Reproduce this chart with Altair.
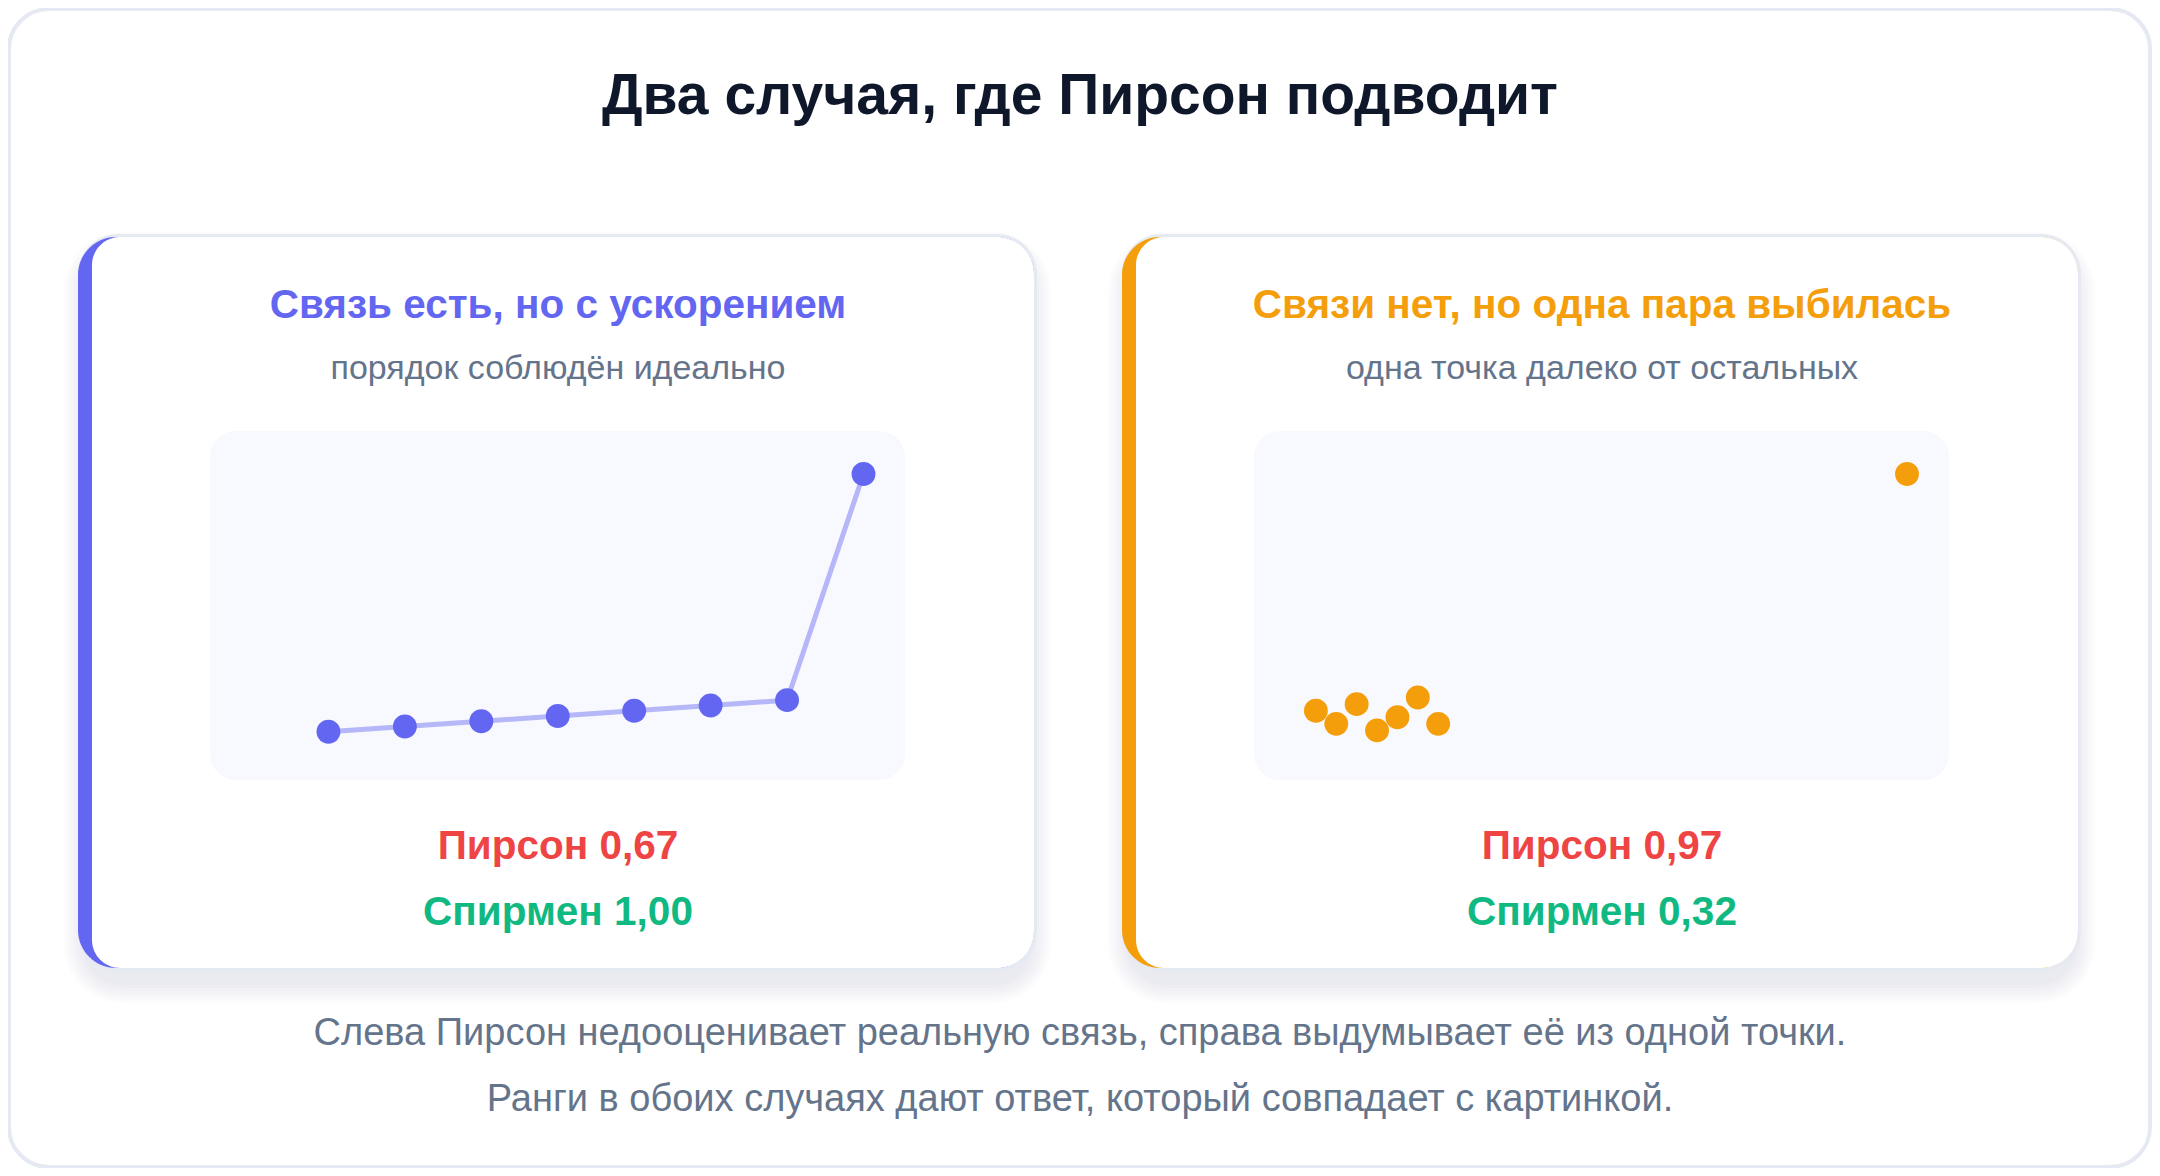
import altair as alt
import pandas as pd

# ---- data ----
left_x = [1, 2, 3, 4, 5, 6, 7, 8]
left_y = [1, 2, 3, 4, 5, 6, 7, 50]
right_x = [1, 2, 3, 4, 5, 6, 7, 30]
right_y = [4, 2, 5, 1, 3, 6, 2, 40]

main_title = "Два случая, где Пирсон подводит"
panel_titles = ["Связь есть, но с ускорением", "Связи нет, но одна пара выбилась"]
panel_subtitles = ["порядок соблюдён идеально", "одна точка далеко от остальных"]
pearson_labels = ["Пирсон 0,67", "Пирсон 0,97"]
spearman_labels = ["Спирмен 1,00", "Спирмен 0,32"]
footnotes = [
    "Слева Пирсон недооценивает реальную связь, справа выдумывает её из одной точки.",
    "Ранги в обоих случаях дают ответ, который совпадает с картинкой.",
]

W, H = 2144, 1160
FONT = "Liberation Sans"
INDIGO = "#6366F1"
AMBER = "#F59E0B"
RED = "#EF4444"
GREEN = "#10B981"
SLATE = "#64748B"
DARK = "#0F172A"
BORDER = "#E5E9F2"

one = pd.DataFrame({"k": [0]})


def rect(x, x2, y, y2, fill, r=0, opacity=1.0, stroke=None, sw=0, **corners):
    kw = dict(fill=fill, opacity=opacity)
    if r:
        kw["cornerRadius"] = r
    if stroke:
        kw["stroke"] = stroke
        kw["strokeWidth"] = sw
    kw.update(corners)
    return alt.Chart(one).mark_rect(**kw).encode(
        x=alt.value(x), x2=alt.value(x2), y=alt.value(y), y2=alt.value(y2)
    )


def text(t, x, y, size, color, weight="normal"):
    return alt.Chart(pd.DataFrame({"t": [t]})).mark_text(
        font=FONT, fontSize=size, fontWeight=weight, color=color,
        align="center", baseline="alphabetic",
    ).encode(x=alt.value(x), y=alt.value(y), text="t:N")


layers = []
# outer card
layers.append(rect(1, 2142, 1, 1159, "#FFFFFF", r=40, stroke=BORDER, sw=4))

# main title
layers.append(text(main_title, 1072, 106, 57, DARK, "bold"))

cards = [
    dict(x0=70, x1=1029, color=INDIGO, cx=550, bx0=202, bx1=897),
    dict(x0=1114, x1=2073, color=AMBER, cx=1594, bx0=1246, bx1=1941),
]
cy0, cy1 = 226, 963
for i, c in enumerate(cards):
    x0, x1 = c["x0"], c["x1"]
    # soft shadow
    for k in range(7):
        e = 3 * k
        layers.append(rect(x0 - e + 4, x1 + e - 4, cy0 + 16 - e, cy1 + 14 + e,
                           "#1E293B", r=40 + e, opacity=0.012))
    # border / accent / body
    layers.append(rect(x0, x1, cy0, cy1, BORDER, r=40))
    layers.append(rect(x0, x1 - 3, cy0 + 3, cy1 - 3, c["color"], r=38))
    layers.append(rect(x0 + 14, x1 - 3, cy0 + 3, cy1 - 3, "#FFFFFF",
                       cornerRadiusTopLeft=28, cornerRadiusBottomLeft=28,
                       cornerRadiusTopRight=37, cornerRadiusBottomRight=37))
    # plot background
    layers.append(rect(c["bx0"], c["bx1"], 423, 772, "#F8F9FE", r=26))
    # texts
    layers.append(text(panel_titles[i], c["cx"], 310, 40.5, c["color"], "bold"))
    layers.append(text(panel_subtitles[i], c["cx"], 371, 34, SLATE))
    layers.append(text(pearson_labels[i], c["cx"], 851, 40.5, RED, "bold"))
    layers.append(text(spearman_labels[i], c["cx"], 917, 40.5, GREEN, "bold"))

for j, f in enumerate(footnotes):
    layers.append(text(f, 1072, [1037, 1103][j], 38, SLATE))

# ---- data panels ----
ldf = pd.DataFrame({"x": left_x, "y": left_y})
rdf = pd.DataFrame({"x": right_x, "y": right_y})

lx = alt.X("x:Q", axis=None, scale=alt.Scale(domain=[0, 8], range=[244, 855.5], nice=False, zero=False))
ly = alt.Y("y:Q", axis=None, scale=alt.Scale(domain=[0, 50], range=[729, 466], nice=False, zero=False))
left = alt.layer(
    alt.Chart(ldf).mark_line(color=INDIGO, opacity=0.45, strokeWidth=5).encode(x=lx, y=ly),
    alt.Chart(ldf).mark_circle(color=INDIGO, opacity=1, size=570).encode(x=lx, y=ly),
)

rx = alt.X("x:Q", axis=None, scale=alt.Scale(domain=[0, 30], range=[1287.5, 1899], nice=False, zero=False))
ry = alt.Y("y:Q", axis=None, scale=alt.Scale(domain=[0, 40], range=[729, 466], nice=False, zero=False))
right = alt.Chart(rdf).mark_circle(color=AMBER, opacity=1, size=570).encode(x=rx, y=ry)

chart = alt.layer(*layers, left, right).resolve_scale(
    x="independent", y="independent"
).properties(
    width=W, height=H, padding=0, autosize="none", background="#FFFFFF"
).configure_view(strokeWidth=0)

chart.save("out.html", embed_options={"renderer": "svg", "actions": False})
